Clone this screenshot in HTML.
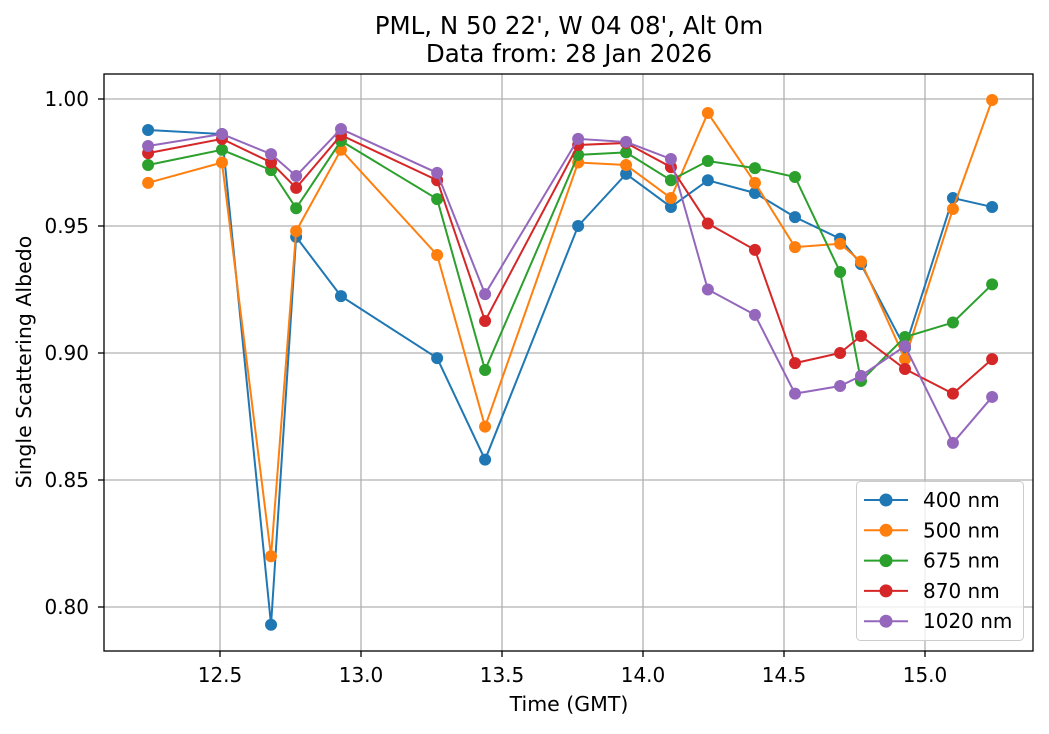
<!DOCTYPE html>
<html><head><meta charset="utf-8"><style>
body{margin:0;background:#fff;font-family:"Liberation Sans","DejaVu Sans",sans-serif;}
svg text{font-family:"DejaVu Sans","Liberation Sans",sans-serif;}
</style></head><body>
<svg id="chart" width="1049" height="729" xmlns="http://www.w3.org/2000/svg">
<rect width="1049" height="729" fill="#fff"/>
<g id="grid"></g><g id="series"></g><g id="axes"></g><g id="legend"></g>
<text x="569" y="34" font-size="24.5" text-anchor="middle">PML, N 50 22', W 04 08', Alt 0m</text>
<text x="569" y="62" font-size="24.5" text-anchor="middle">Data from: 28 Jan 2026</text>
<text x="569" y="711" font-size="20.5" text-anchor="middle">Time (GMT)</text>
<text transform="translate(31,362) rotate(-90)" font-size="20.5" text-anchor="middle">Single Scattering Albedo</text>
</svg>
<script>
const times=[12.245,12.507,12.681,12.770,12.929,13.270,13.440,13.770,13.940,14.099,14.230,14.397,14.539,14.699,14.773,14.929,15.099,15.238];
const s400=[0.9878,0.9862,0.793,0.9457,0.9224,0.898,0.858,0.95,0.9705,0.9575,0.968,0.963,0.9535,0.945,0.935,0.902,0.961,0.9575];
const s500=[0.967,0.975,0.82,0.948,0.98,0.9386,0.871,0.975,0.974,0.961,0.9945,0.967,0.9417,0.943,0.936,0.8976,0.9567,0.9996];
const s675=[0.974,0.98,0.972,0.957,0.9835,0.9606,0.8933,0.978,0.979,0.968,0.9756,0.9728,0.9693,0.9319,0.889,0.9063,0.912,0.927];
const s870=[0.9787,0.9843,0.975,0.965,0.9858,0.968,0.9126,0.9819,0.9827,0.9732,0.951,0.9406,0.896,0.9,0.9067,0.8937,0.884,0.8976];
const s1020=[0.9815,0.9862,0.9783,0.9697,0.9882,0.9709,0.9232,0.9843,0.9831,0.9764,0.925,0.915,0.884,0.887,0.891,0.9027,0.8646,0.8827];
const xTicks=[12.5,13.0,13.5,14.0,14.5,15.0];
const yTicks=[0.80,0.85,0.90,0.95,1.00];
const seriesNames=["400 nm","500 nm","675 nm","870 nm","1020 nm"];
const colors=["#1f77b4","#ff7f0e","#2ca02c","#d62728","#9467bd"];
const L=104,R=1033,T=74,B=651;
const X=v=>925+(v-15)*282;
const Y=v=>99+(1-v)*2540;
const NS="http://www.w3.org/2000/svg";
function mk(tag,attrs,parent){const e=document.createElementNS(NS,tag);for(const k in attrs)e.setAttribute(k,attrs[k]);parent.appendChild(e);return e;}
const grid=document.getElementById('grid'),axes=document.getElementById('axes'),ser=document.getElementById('series'),leg=document.getElementById('legend');
xTicks.forEach(t=>{const x=X(t);
 let g=mk('line',{x1:x,x2:x,y1:T,y2:B,stroke:'#b0b0b0','stroke-width':1.3},grid);
 
 mk('line',{x1:x,x2:x,y1:B,y2:B+6,stroke:'#000','stroke-width':1.3},axes);
 let tx=mk('text',{x:x,y:B+31,'font-size':20,'text-anchor':'middle'},axes);tx.textContent=t.toFixed(1);
 });
yTicks.forEach(t=>{const y=Y(t);
 let g=mk('line',{x1:L,x2:R,y1:y,y2:y,stroke:'#b0b0b0','stroke-width':1.3},grid);
 
 mk('line',{x1:L-6,x2:L,y1:y,y2:y,stroke:'#000','stroke-width':1.3},axes);
 let tx=mk('text',{x:L-15,y:y+7,'font-size':20,'text-anchor':'end'},axes);tx.textContent=t.toFixed(2);
 });
let fr=mk('rect',{x:L,y:T,width:R-L,height:B-T,fill:'none',stroke:'#000','stroke-width':1.3},axes);

[s400,s500,s675,s870,s1020].forEach((s,i)=>{
 const g=mk('g',{},ser);
 
 
 mk('polyline',{points:s.map((v,j)=>X(times[j])+','+Y(v)).join(' '),fill:'none',stroke:colors[i],'stroke-width':2},g);
 s.forEach((v,j)=>{const c=mk('circle',{cx:X(times[j]),cy:Y(v),r:6,fill:colors[i]},g);
  });
});
let lb=mk('rect',{x:856.5,y:481.5,width:167,height:159,rx:4,fill:'#fff','fill-opacity':0.8,stroke:'#ccc'},leg);

seriesNames.forEach((n,i)=>{const y=500+i*30.3;
 const g=mk('g',{},leg);
 
 mk('line',{x1:864,x2:908,y1:y,y2:y,stroke:colors[i],'stroke-width':2},g);
 mk('circle',{cx:886,cy:y,r:6.5,fill:colors[i]},g);
 const t=mk('text',{x:923,y:y+7,'font-size':20},g);t.textContent=n;});
</script>
</body></html>
